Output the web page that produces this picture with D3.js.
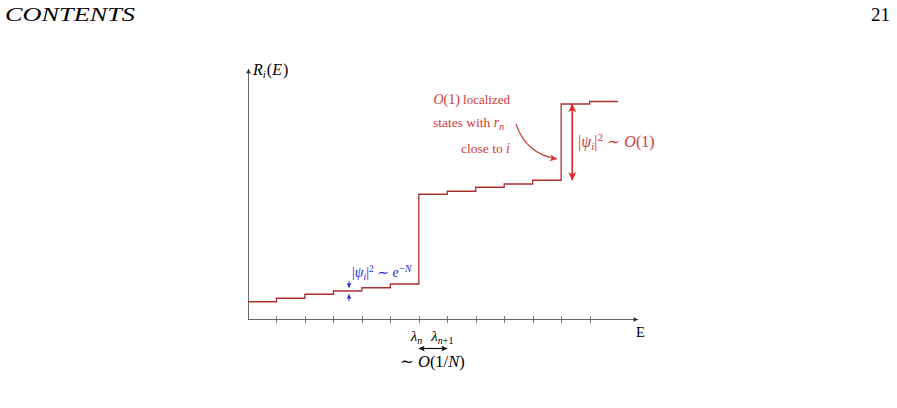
<!DOCTYPE html>
<html>
<head>
<meta charset="utf-8">
<script src="https://cdn.jsdelivr.net/npm/d3@7"></script>
<style>
  body { margin: 0; background: #fff; }
  svg { display: block; font-family: "Liberation Serif", "DejaVu Serif", serif; }
</style>
</head>
<body>
<svg id="chart" width="897" height="408"></svg>
<script>
// energy index of each level (tick positions along E)
var ticks = [1, 2, 3, 4, 5, 6, 7, 8, 9, 10, 11, 12];
// R_i(E) value on each step (arbitrary units 0..100)
var levels = [6.9, 8.3, 9.9, 11.2, 12.5, 14.0, 49.9, 51.1, 52.7, 54.0, 55.5, 86.0, 87.0];
// labelled ticks
var lambdaTicks = [6, 7];

var lineColor = "#a8302f";
var redArrow = "#e3231f";
var redText = "#d0393a";
var blue = "#2424e0";

var svg = d3.select("#chart");

var x = d3.scaleLinear().domain([0, 13.7]).range([248, 638]);
var y = d3.scaleLinear().domain([0, 100]).range([319, 69]);

// arrow heads
var defs = svg.append("defs");
function marker(id, color, w, h) {
  defs.append("marker")
    .attr("id", id)
    .attr("viewBox", "0 0 10 10")
    .attr("refX", 10).attr("refY", 5)
    .attr("markerUnits", "userSpaceOnUse")
    .attr("markerWidth", w).attr("markerHeight", h)
    .attr("orient", "auto-start-reverse")
    .append("path")
    .attr("d", "M0,0 L10,5 L0,10 L2.5,5 Z")
    .attr("fill", color);
}
marker("arrAxis", "#222", 6, 5);
marker("arrRed", redArrow, 9, 8);
marker("arrRedCurve", "#c83030", 9, 7);
marker("arrBlue", blue, 5, 5);
marker("arrBlack", "#111", 8, 6);

// header
svg.append("text").attr("x", 5).attr("y", 21)
  .attr("font-size", 19).attr("font-style", "italic")
  .attr("textLength", 130).attr("lengthAdjust", "spacingAndGlyphs")
  .text("CONTENTS");
svg.append("text").attr("x", 890).attr("y", 21)
  .attr("font-size", 19).attr("text-anchor", "end")
  .text("21");

// axes
svg.append("line")
  .attr("x1", x(0)).attr("y1", y(0) + 0.5)
  .attr("x2", x(13.7)).attr("y2", y(0) + 0.5)
  .attr("stroke", "#555").attr("stroke-width", 0.9)
  .attr("marker-end", "url(#arrAxis)");
svg.append("line")
  .attr("x1", x(0) + 0.5).attr("y1", y(0) + 0.5)
  .attr("x2", x(0) + 0.5).attr("y2", y(100))
  .attr("stroke", "#555").attr("stroke-width", 0.9)
  .attr("marker-end", "url(#arrAxis)");

svg.selectAll("line.tick").data(ticks).enter().append("line")
  .attr("class", "tick")
  .attr("x1", function(d){ return Math.round(x(d)) + 0.5; })
  .attr("x2", function(d){ return Math.round(x(d)) + 0.5; })
  .attr("y1", y(0) - 3).attr("y2", y(0) + 4)
  .attr("stroke", "#555").attr("stroke-width", 0.8);

// axis labels
var yl = svg.append("text").attr("x", 253).attr("y", 75).attr("font-size", 16);
yl.append("tspan").attr("font-style", "italic").text("R");
yl.append("tspan").attr("font-style", "italic").attr("font-size", 11).attr("dy", 3).text("i");
yl.append("tspan").attr("dy", -3).attr("dx", 1).text("(");
yl.append("tspan").attr("font-style", "italic").text("E");
yl.append("tspan").attr("dx", 1).text(")");

svg.append("text").attr("x", 636).attr("y", 337).attr("font-size", 14.5).text("E");

// step function
var stepData = levels.map(function(v, i){ return { e: i, r: v }; });
stepData.push({ e: levels.length, r: levels[levels.length - 1] });

var line = d3.line()
  .x(function(d){ return x(d.e); })
  .y(function(d){ return y(d.r); })
  .curve(d3.curveStepAfter);

svg.append("path")
  .datum(stepData)
  .attr("d", line)
  .attr("fill", "none")
  .attr("stroke", lineColor)
  .attr("stroke-width", 1.3);

// blue step size marker
var bx = x(3.55);
var gap = y(levels[3]) - y(levels[4]);
svg.append("line")
  .attr("x1", bx).attr("x2", bx)
  .attr("y1", y(levels[3]) - gap - 7).attr("y2", y(levels[3]) - gap)
  .attr("stroke", blue).attr("stroke-width", 0.9)
  .attr("marker-end", "url(#arrBlue)");
svg.append("line")
  .attr("x1", bx).attr("x2", bx)
  .attr("y1", y(levels[3]) + gap + 7).attr("y2", y(levels[3]) + gap)
  .attr("stroke", blue).attr("stroke-width", 0.9)
  .attr("marker-end", "url(#arrBlue)");

var bt = svg.append("text").attr("x", 352).attr("y", 277).attr("font-size", 14).attr("fill", blue);
bt.append("tspan").text("|");
bt.append("tspan").attr("font-style", "italic").text("ψ");
bt.append("tspan").attr("font-style", "italic").attr("font-size", 9.5).attr("dy", 2.5).text("i");
bt.append("tspan").attr("dy", -2.5).text("|");
bt.append("tspan").attr("font-size", 9.5).attr("dy", -5).text("2");
bt.append("tspan").attr("dy", 5).text(" ∼ ");
bt.append("tspan").attr("font-style", "italic").text("e");
bt.append("tspan").attr("font-size", 9.5).attr("font-style", "italic").attr("dy", -5.5).text("−N");

// big red arrow and label
var rx = x(11.39);
svg.append("line")
  .attr("x1", rx).attr("x2", rx)
  .attr("y1", y(levels[10])).attr("y2", y(levels[11]))
  .attr("stroke", redArrow).attr("stroke-width", 1.6)
  .attr("marker-start", "url(#arrRed)")
  .attr("marker-end", "url(#arrRed)");

var rt = svg.append("text").attr("x", 578).attr("y", 147).attr("font-size", 16).attr("fill", redText);
rt.append("tspan").text("|");
rt.append("tspan").attr("font-style", "italic").text("ψ");
rt.append("tspan").attr("font-style", "italic").attr("font-size", 11).attr("dy", 3).text("i");
rt.append("tspan").attr("dy", -3).text("|");
rt.append("tspan").attr("font-size", 11).attr("dy", -6).text("2");
rt.append("tspan").attr("dy", 6).text(" ∼ ");
rt.append("tspan").attr("font-style", "italic").text("O");
rt.append("tspan").text("(1)");

// localized states note
var nt1 = svg.append("text").attr("x", 510).attr("y", 104).attr("font-size", 13)
  .attr("fill", redText).attr("text-anchor", "end");
nt1.append("tspan").attr("font-style", "italic").attr("font-size", 14).text("O");
nt1.append("tspan").attr("font-size", 14).text("(1)");
nt1.append("tspan").text(" localized");

var nt2 = svg.append("text").attr("x", 433).attr("y", 127).attr("font-size", 13.5).attr("fill", redText);
nt2.append("tspan").text("states with ");
nt2.append("tspan").attr("font-style", "italic").attr("font-size", 14).text("r");
nt2.append("tspan").attr("font-style", "italic").attr("font-size", 10).attr("dy", 2.5).text("n");

var nt3 = svg.append("text").attr("x", 510).attr("y", 153).attr("font-size", 13.5)
  .attr("fill", redText).attr("text-anchor", "end");
nt3.append("tspan").text("close to ");
nt3.append("tspan").attr("font-style", "italic").attr("font-size", 14).text("i");

svg.append("path")
  .attr("d", "M516,124 Q526,154 557,159")
  .attr("fill", "none")
  .attr("stroke", "#c83030").attr("stroke-width", 1.1)
  .attr("marker-end", "url(#arrRedCurve)");

// lambda labels
var l1 = svg.append("text").attr("x", x(lambdaTicks[0]) - 8).attr("y", 341).attr("font-size", 15);
l1.append("tspan").attr("font-style", "italic").text("λ");
l1.append("tspan").attr("font-style", "italic").attr("font-size", 10).attr("dy", 3).text("n");

var l2 = svg.append("text").attr("x", x(lambdaTicks[1]) - 16).attr("y", 341).attr("font-size", 15);
l2.append("tspan").attr("font-style", "italic").text("λ");
l2.append("tspan").attr("font-style", "italic").attr("font-size", 10).attr("dy", 3).text("n");
l2.append("tspan").attr("font-size", 10).text("+1");

svg.append("line")
  .attr("x1", x(lambdaTicks[0])).attr("x2", x(lambdaTicks[1]))
  .attr("y1", 348.5).attr("y2", 348.5)
  .attr("stroke", "#111").attr("stroke-width", 1.2)
  .attr("marker-start", "url(#arrBlack)")
  .attr("marker-end", "url(#arrBlack)");

var ot = svg.append("text").attr("x", 400).attr("y", 367).attr("font-size", 16.5);
ot.append("tspan").text("∼ ");
ot.append("tspan").attr("font-style", "italic").text("O");
ot.append("tspan").text("(1/");
ot.append("tspan").attr("font-style", "italic").text("N");
ot.append("tspan").text(")");
</script>
</body>
</html>
